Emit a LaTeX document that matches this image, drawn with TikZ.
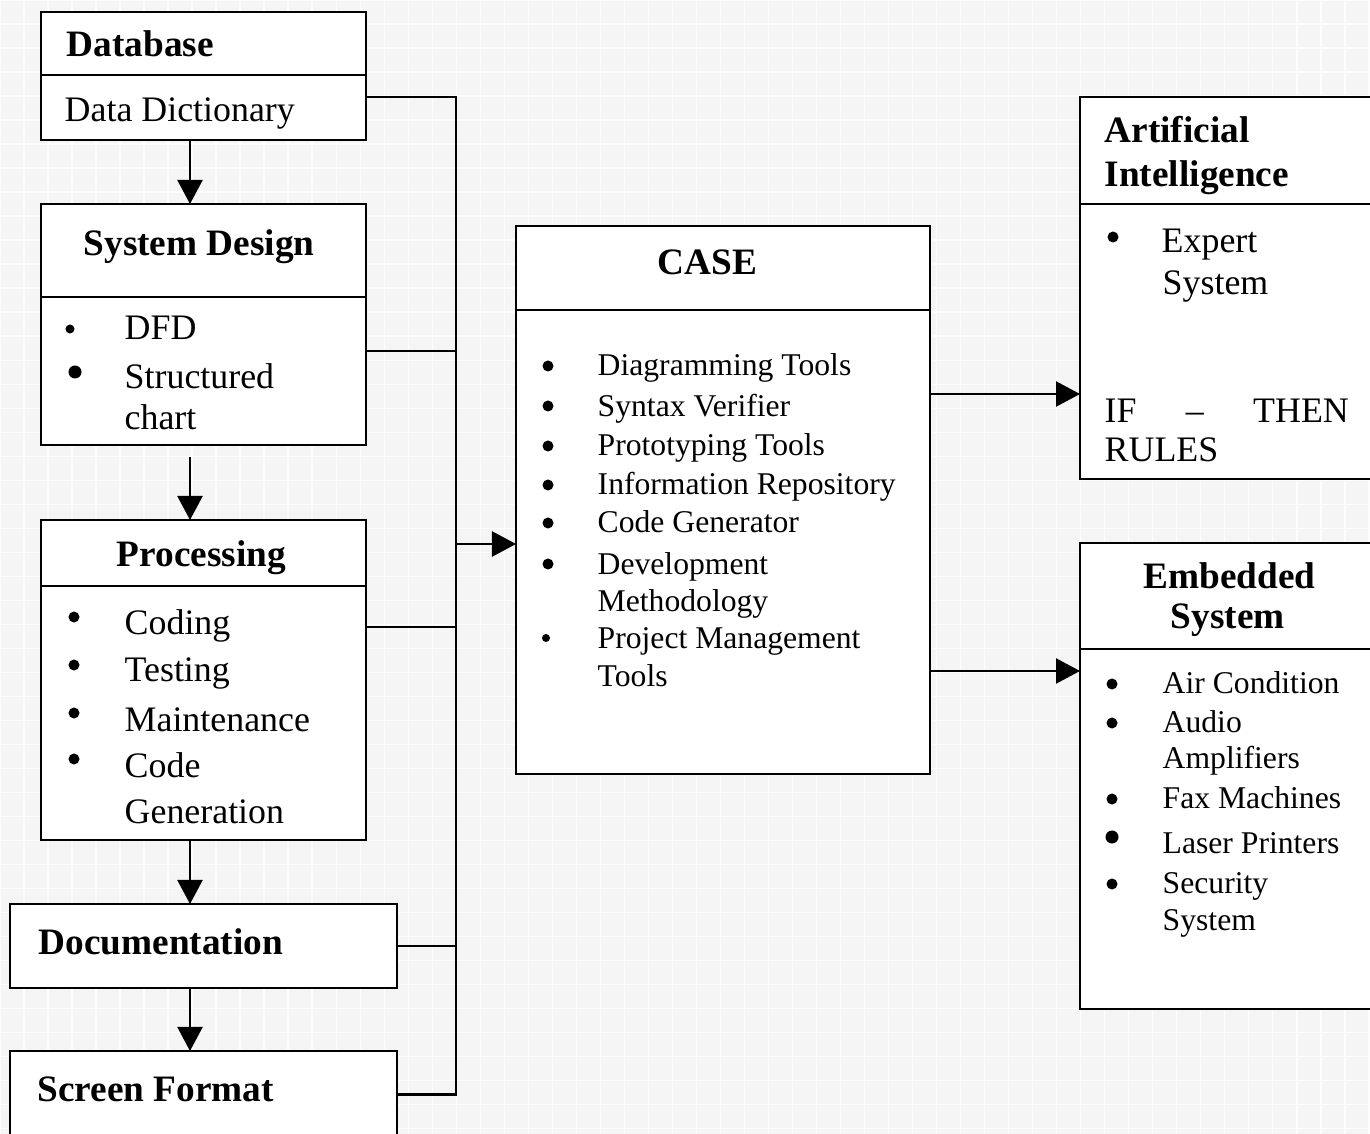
\documentclass[tikz,border=0pt]{standalone}
\usepackage{fontspec}
\setmainfont{Liberation Serif}
\usetikzlibrary{arrows.meta}

\tikzset{
  bx/.style={draw=black, fill=white, line width=0.65pt, anchor=north west, inner sep=0pt, outer sep=0pt},
  ttl/.style={anchor=base west, inner sep=0pt, font=\fontsize{10.6}{12}\selectfont\bfseries},
  itm/.style={anchor=base west, inner sep=0pt, font=\fontsize{10.2}{12}\selectfont},
  itms/.style={anchor=base west, inner sep=0pt, font=\fontsize{9}{11}\selectfont},
  bul/.style={circle, fill=black, inner sep=0pt, minimum size=0.11cm},
  conn/.style={draw=black, line width=0.65pt},
  arr/.style={conn, -{Triangle[length=0.24cm,width=0.25cm]}}
}

\begin{document}
\begin{tikzpicture}[x=0.01cm, y=-0.01cm]
    \clip (0,0) rectangle (1370,1134);
    \fill [black!4] (0,0) rectangle (1370,1134);
    \draw [white!60!black!2, line width=0.4pt, step=0.24cm] (0,0) grid (1370,1134);
    \coordinate (spine) at (190,0);
    \coordinate (bus) at (456,0);

    \node [bx, minimum width=3.25cm, minimum height=0.63cm] (dbh) at (41,12) {};
    \node [bx, minimum width=3.25cm, minimum height=0.65cm] (dbb) at (41,75) {};
    \node [ttl] (dbt) at (66,57) {Database};
    \node [itm] (dbi) at (64,122) {Data Dictionary};

    \node [bx, minimum width=3.25cm, minimum height=0.93cm] (sdh) at (41,204) {};
    \node [bx, minimum width=3.25cm, minimum height=1.48cm] (sdb) at (41,297) {};
    \node [ttl] (sdt) at (83,256) {System Design};
    \node [bul, minimum size=0.09cm] (sdd1) at (70,329) {};
    \node [itm] (sdi1) at (124,340) {DFD};
    \node [bul, minimum size=0.13cm] (sdd2) at (75,372) {};
    \node [itm] (sdi2) at (124,389) {Structured};
    \node [itm] (sdi3) at (124,430) {chart};

    \node [bx, minimum width=3.25cm, minimum height=0.66cm] (prh) at (41,520) {};
    \node [bx, minimum width=3.25cm, minimum height=2.54cm] (prb) at (41,586) {};
    \node [ttl] (prt) at (116,567) {Processing};
    \node [bul] (prd1) at (74,617) {};
    \node [itm] (pri1) at (124,634) {Coding};
    \node [bul] (prd2) at (74,665) {};
    \node [itm] (pri2) at (124,682) {Testing};
    \node [bul] (prd3) at (74,713) {};
    \node [itm] (pri3) at (124,731) {Maintenance};
    \node [bul] (prd4) at (74,759) {};
    \node [itm] (pri4) at (124,777) {Code};
    \node [itm] (pri5) at (124,823) {Generation};

    \node [bx, minimum width=3.87cm, minimum height=0.84cm] (doc) at (10,904) {};
    \node [ttl] (doct) at (38,954) {Documentation};

    \node [bx, minimum width=3.87cm, minimum height=0.87cm] (sf) at (10,1051) {};
    \node [ttl] (sft) at (37,1101) {Screen Format};

    \node [bx, minimum width=4.14cm, minimum height=0.84cm] (csh) at (516,226) {};
    \node [bx, minimum width=4.14cm, minimum height=4.64cm] (csb) at (516,310) {};
    \node [ttl] (cst) at (657,275) {CASE};
    \node [bul] (csd1) at (548,366) {};
    \node [itms] (csi1) at (597,376) {Diagramming Tools};
    \node [bul] (csd2) at (548,406) {};
    \node [itms] (csi2) at (597,417) {Syntax Verifier};
    \node [bul] (csd3) at (548,446) {};
    \node [itms] (csi3) at (597,456) {Prototyping Tools};
    \node [bul] (csd4) at (548,485) {};
    \node [itms] (csi4) at (597,495) {Information Repository};
    \node [bul] (csd5) at (548,523) {};
    \node [itms] (csi5) at (597,533) {Code Generator};
    \node [bul] (csd6) at (548,564) {};
    \node [itms] (csi6) at (597,574) {Development};
    \node [itms] (csi7) at (597,611) {Methodology};
    \node [bul, minimum size=0.08cm] (csd7) at (546,638) {};
    \node [itms] (csi8) at (597,648) {Project Management};
    \node [itms] (csi9) at (597,686) {Tools};

    \node [bx, minimum width=3.2cm, minimum height=1.07cm] (aih) at (1080,97) {};
    \node [bx, minimum width=3.2cm, minimum height=2.75cm] (aib) at (1080,204) {};
    \node [ttl] (ait1) at (1104,143) {Artificial};
    \node [ttl] (ait2) at (1104,187) {Intelligence};
    \node [bul] (aid1) at (1113,237) {};
    \node [itm] (aii1) at (1161,253) {Expert};
    \node [itm] (aii2) at (1162,295) {System};
    \node [itm] (aii3) at (1104,423) {\makebox[2.44cm][s]{IF\hfill –\hfill THEN}};
    \node [itm] (aii4) at (1104,462) {RULES};

    \node [bx, minimum width=3.2cm, minimum height=1.06cm] (emh) at (1080,543) {};
    \node [bx, minimum width=3.2cm, minimum height=3.6cm] (emb) at (1080,649) {};
    \node [ttl] (emt1) at (1143,588) {Embedded};
    \node [ttl] (emt2) at (1170,628) {System};
    \node [bul] (emd1) at (1112,684) {};
    \node [itms] (emi1) at (1162,693) {Air Condition};
    \node [bul] (emd2) at (1112,723) {};
    \node [itms] (emi2) at (1162,732) {Audio};
    \node [itms] (emi3) at (1162,768) {Amplifiers};
    \node [bul] (emd3) at (1112,799) {};
    \node [itms] (emi4) at (1162,808) {Fax Machines};
    \node [bul, minimum size=0.13cm] (emd4) at (1112,837) {};
    \node [itms] (emi5) at (1162,853) {Laser Printers};
    \node [bul] (emd5) at (1112,884) {};
    \node [itms] (emi6) at (1162,893) {Security};
    \node [itms] (emi7) at (1162,930) {System};

    \draw [arr] (dbb.south -| spine) -- (sdh.north -| spine);
    \draw [arr] ([yshift=-0.12cm]sdb.south -| spine) -- (prh.north -| spine);
    \draw [arr] (prb.south -| spine) -- (doc.north -| spine);
    \draw [arr] (doc.south -| spine) -- (sf.north -| spine);

    \draw [conn] (dbb.east |- 0,97) -- (bus |- 0,97) -- (bus |- sf.east) -- (sf.east);
    \draw [conn] (sdb.east |- 0,351) -- (bus |- 0,351);
    \draw [conn] (prb.east |- 0,627) -- (bus |- 0,627);
    \draw [conn] (doc.east) -- (bus |- doc.east);
    \draw [arr] (bus |- 0,544) -- (csb.west |- 0,544);

    \draw [arr] (csb.east |- 0,394) -- (aib.west |- 0,394);
    \draw [arr] (csb.east |- 0,671) -- (emb.west |- 0,671);
\end{tikzpicture}
\end{document}
